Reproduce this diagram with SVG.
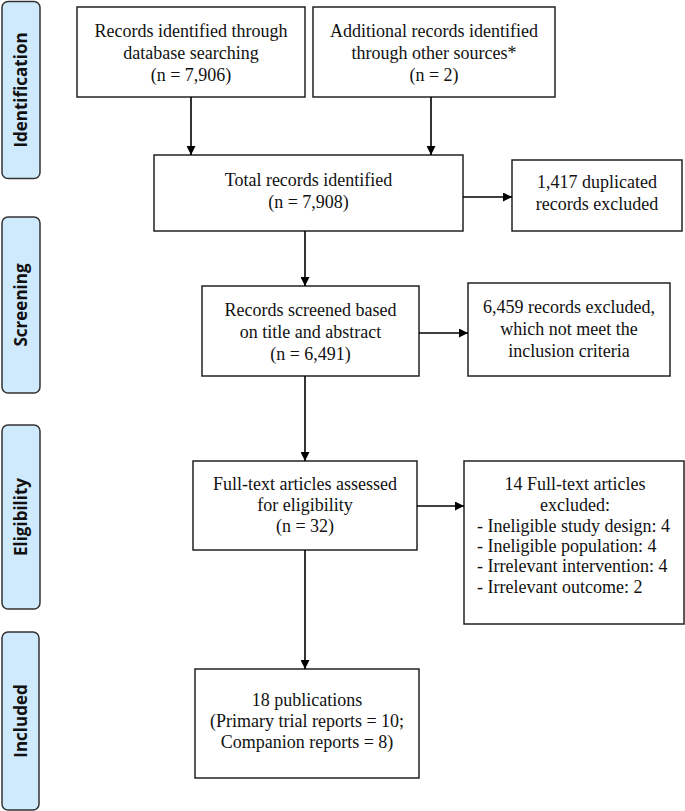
<svg xmlns="http://www.w3.org/2000/svg" width="685" height="811" viewBox="0 0 685 811">
<style>
.box{fill:#fff;stroke:#222;stroke-width:1.5}
.side{fill:#cfeafd;stroke:#333;stroke-width:1.5}
.t{font-family:"Liberation Serif","Times New Roman",serif;font-size:18px;fill:#111;text-anchor:middle}
.tl{font-family:"Liberation Serif","Times New Roman",serif;font-size:18px;fill:#111}
.s{font-family:"Open Sans","Noto Sans","DejaVu Sans",sans-serif;font-size:17px;font-weight:bold;fill:#111;text-anchor:middle}
.c{stroke:#000;stroke-width:1.6;fill:none}
</style>
<defs>
<marker id="ah" viewBox="0 0 10 10" refX="10" refY="5" markerWidth="10" markerHeight="9" markerUnits="userSpaceOnUse" orient="auto">
<path d="M0,0 L10,5 L0,10 Z" fill="#000"/>
</marker>
</defs>
<g id="side-identification"><rect class="side" x="2" y="1.5" width="38" height="177" rx="6"/><text class="s" transform="translate(27,90) rotate(-90)">Identification</text></g>
<g id="side-screening"><rect class="side" x="2" y="217" width="38" height="176" rx="6"/><text class="s" transform="translate(27,305) rotate(-90)">Screening</text></g>
<g id="side-eligibility"><rect class="side" x="2" y="425" width="38" height="184" rx="6"/><text class="s" transform="translate(27,517) rotate(-90)">Eligibility</text></g>
<g id="side-included"><rect class="side" x="2" y="632" width="37" height="178" rx="6"/><text class="s" transform="translate(27,721) rotate(-90)">Included</text></g>

<g id="n-db"><rect class="box" x="77" y="7" width="228" height="90"/>
<text class="t" x="191" y="37">Records identified through</text>
<text class="t" x="191" y="59">database searching</text>
<text class="t" x="191" y="81">(n = 7,906)</text></g>
<g id="n-other"><rect class="box" x="313" y="7" width="242" height="90"/>
<text class="t" x="434" y="37">Additional records identified</text>
<text class="t" x="434" y="59">through other sources*</text>
<text class="t" x="434" y="81">(n = 2)</text></g>
<g id="n-total"><rect class="box" x="154" y="155" width="309" height="76"/>
<text class="t" x="308.5" y="186">Total records identified</text>
<text class="t" x="308.5" y="208">(n = 7,908)</text></g>
<g id="n-dup"><rect class="box" x="512" y="160" width="170" height="71"/>
<text class="t" x="597" y="188">1,417 duplicated</text>
<text class="t" x="597" y="210">records excluded</text></g>
<g id="n-screened"><rect class="box" x="202" y="286" width="217" height="90"/>
<text class="t" x="310.5" y="316">Records screened based</text>
<text class="t" x="310.5" y="338">on title and abstract</text>
<text class="t" x="310.5" y="360">(n = 6,491)</text></g>
<g id="n-excl1"><rect class="box" x="468" y="283" width="202" height="93"/>
<text class="t" x="569" y="313">6,459 records excluded,</text>
<text class="t" x="569" y="335">which not meet the</text>
<text class="t" x="569" y="357">inclusion criteria</text></g>
<g id="n-fulltext"><rect class="box" x="193" y="461" width="224" height="89"/>
<text class="t" x="305" y="490">Full-text articles assessed</text>
<text class="t" x="305" y="511">for eligibility</text>
<text class="t" x="305" y="532">(n = 32)</text></g>
<g id="n-excl2"><rect class="box" x="464" y="461" width="220" height="163"/>
<text class="t" x="575" y="490">14 Full-text articles</text>
<text class="t" x="575" y="511">excluded:</text>
<text class="tl" x="477" y="532">- Ineligible study design: 4</text>
<text class="tl" x="477" y="552">- Ineligible population: 4</text>
<text class="tl" x="477" y="572">- Irrelevant intervention: 4</text>
<text class="tl" x="477" y="593">- Irrelevant outcome: 2</text></g>
<g id="n-pub"><rect class="box" x="195" y="669" width="224" height="109"/>
<text class="t" x="307" y="706">18 publications</text>
<text class="t" x="307" y="727">(Primary trial reports = 10;</text>
<text class="t" x="307" y="748">Companion reports = 8)</text></g>

<g id="connectors">
<line class="c" x1="191" y1="97" x2="191" y2="155" marker-end="url(#ah)"/>
<line class="c" x1="431" y1="97" x2="431" y2="155" marker-end="url(#ah)"/>
<line class="c" x1="463" y1="197" x2="512" y2="197" marker-end="url(#ah)"/>
<line class="c" x1="305" y1="231" x2="305" y2="286" marker-end="url(#ah)"/>
<line class="c" x1="419" y1="333" x2="468" y2="333" marker-end="url(#ah)"/>
<line class="c" x1="305" y1="376" x2="305" y2="461" marker-end="url(#ah)"/>
<line class="c" x1="417" y1="506" x2="464" y2="506" marker-end="url(#ah)"/>
<line class="c" x1="305" y1="550" x2="305" y2="669" marker-end="url(#ah)"/>
</g>
</svg>
